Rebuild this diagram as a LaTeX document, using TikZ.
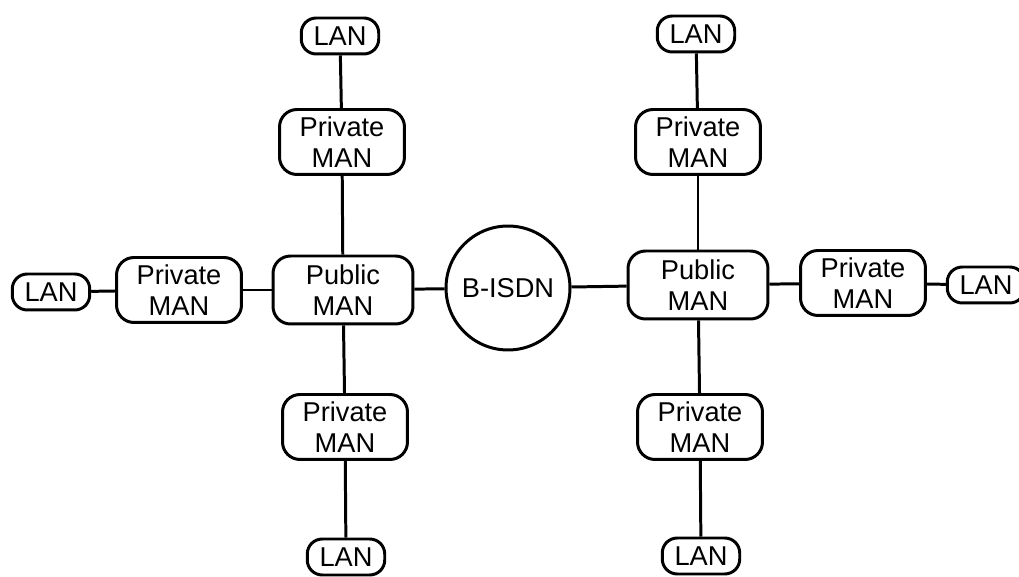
\documentclass[tikz,border=0pt]{standalone}
\usepackage{fontspec}
\setmainfont{Liberation Sans}

\begin{document}
\begin{tikzpicture}[x=0.02cm, y=-0.02cm, line width=1.7pt,
    lan/.style={draw, rounded corners=0.3cm, minimum width=1.55cm,
      minimum height=0.72cm, inner sep=0pt, font=\fontsize{15.5}{17}\selectfont},
    man/.style={draw, rounded corners=0.35cm, minimum width=2.5cm,
      minimum height=1.3cm, inner sep=0pt, align=center,
      font=\fontsize{15.5}{17.5}\selectfont},
    pub/.style={man, minimum width=2.8cm, minimum height=1.36cm},
    link/.style={line width=1.7pt}]
  % page frame
  \useasboundingbox (0,0) rectangle (1019,577);

  % centre
  \node[draw, circle, minimum size=2.48cm, inner sep=0pt,
        font=\fontsize{15.5}{17}\selectfont] (isdn) at (508,288) {B-ISDN};

  % left cluster
  \node[pub] (pubL) at (343,290) {Public\\MAN};
  \node[man] (privLw) at (179,290) {Private\\MAN};
  \node[lan] (lanLw) at (51,292) {LAN};
  \node[man] (privLn) at (342,142) {Private\\MAN};
  \node[lan] (lanLn) at (340,36) {LAN};
  \node[man] (privLs) at (345,427) {Private\\MAN};
  \node[lan] (lanLs) at (346,557) {LAN};

  % right cluster
  \node[pub] (pubR) at (698,285) {Public\\MAN};
  \node[man] (privRe) at (863,283) {Private\\MAN};
  \node[lan] (lanRe) at (986,285) {LAN};
  \node[man] (privRn) at (698,142) {Private\\MAN};
  \node[lan] (lanRn) at (696,34) {LAN};
  \node[man] (privRs) at (700,427) {Private\\MAN};
  \node[lan] (lanRs) at (701,556) {LAN};

  % links
  \draw[link] (pubL) -- (isdn);
  \draw[link] (isdn) -- (pubR);
  \draw[link] (lanLw) -- (privLw);
  \draw[link] (privLw) -- (pubL);
  \draw[link] (lanLn) -- (privLn);
  \draw[link] (privLn) -- (pubL);
  \draw[link] (pubL) -- (privLs);
  \draw[link] (privLs) -- (lanLs);
  \draw[link] (pubR) -- (privRe);
  \draw[link] (privRe) -- (lanRe);
  \draw[link] (lanRn) -- (privRn);
  \draw[link] (privRn) -- (pubR);
  \draw[link] (pubR) -- (privRs);
  \draw[link] (privRs) -- (lanRs);
\end{tikzpicture}
\end{document}
